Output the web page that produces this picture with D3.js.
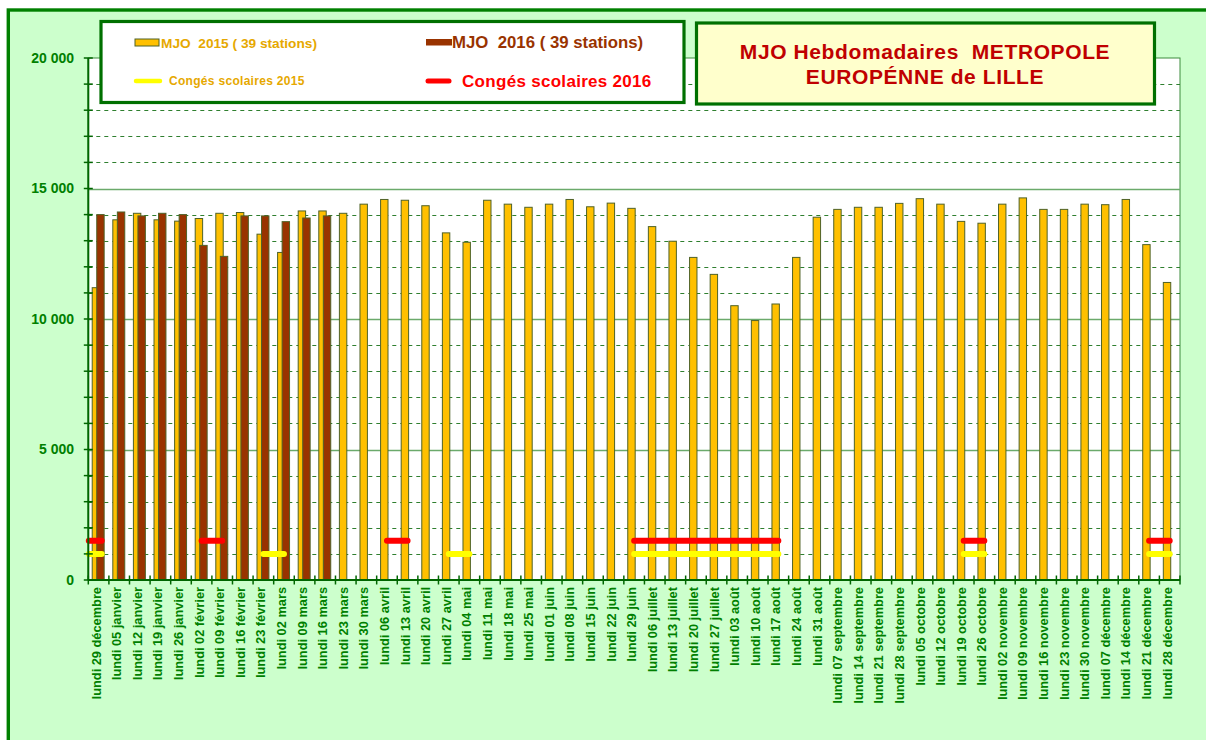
<!DOCTYPE html>
<html>
<head>
<meta charset="utf-8">
<script src="https://cdn.jsdelivr.net/npm/d3@7/dist/d3.min.js"></script>
<style>
  html, body { margin: 0; padding: 0; background: #ffffff; }
  svg { display: block; font-family: "Liberation Sans", Arial, sans-serif; }
</style>
</head>
<body>
<svg id="chart" width="1206" height="740"></svg>
<script>
// ---------- DATA ----------
const categories = [
  "lundi 29 décembre","lundi 05 janvier","lundi 12 janvier","lundi 19 janvier","lundi 26 janvier",
  "lundi 02 février","lundi 09 février","lundi 16 février","lundi 23 février",
  "lundi 02 mars","lundi 09 mars","lundi 16 mars","lundi 23 mars","lundi 30 mars",
  "lundi 06 avril","lundi 13 avril","lundi 20 avril","lundi 27 avril",
  "lundi 04 mai","lundi 11 mai","lundi 18 mai","lundi 25 mai",
  "lundi 01 juin","lundi 08 juin","lundi 15 juin","lundi 22 juin","lundi 29 juin",
  "lundi 06 juillet","lundi 13 juillet","lundi 20 juillet","lundi 27 juillet",
  "lundi 03 août","lundi 10 août","lundi 17 août","lundi 24 août","lundi 31 août",
  "lundi 07 septembre","lundi 14 septembre","lundi 21 septembre","lundi 28 septembre",
  "lundi 05 octobre","lundi 12 octobre","lundi 19 octobre","lundi 26 octobre",
  "lundi 02 novembre","lundi 09 novembre","lundi 16 novembre","lundi 23 novembre","lundi 30 novembre",
  "lundi 07 décembre","lundi 14 décembre","lundi 21 décembre","lundi 28 décembre"
];

const mjo2015 = [
  11200, 13800, 14050, 13800, 13750, 13850, 14050, 14080, 13250, 12550, 14140, 14140, 14050, 14400,
  14580, 14550, 14340, 13300, 12940, 14550, 14400, 14280, 14400, 14580, 14300, 14440, 14240,
  13540, 12980, 12360, 11710, 10510, 9940, 10575, 12360, 13900,
  14200, 14280, 14280, 14430, 14610, 14400, 13740, 13670,
  14400, 14640, 14200, 14200, 14400, 14380, 14580, 12850, 11400
];

const mjo2016 = [
  14000, 14100, 13950, 14050, 14000, 12820, 12400, 13950, 13950, 13730, 13870, 13950
];

// School holidays (value drawn at the level of the line), null = no holiday
const conges2015 = [
  1000, null, null, null, null, null, null, null, 1000, 1000, null, null, null, null,
  null, null, null, 1000, 1000, null, null, null, null, null, null, null, 1000,
  1000, 1000, 1000, 1000, 1000, 1000, 1000, null, null,
  null, null, null, null, null, null, 1000, 1000,
  null, null, null, null, null, null, null, 1000, 1000
];
const conges2016 = [
  1500, null, null, null, null, 1500, 1500, null, null, null, null, null, null, null,
  1500, 1500, null, null, null, null, null, null, null, null, null, null, 1500,
  1500, 1500, 1500, 1500, 1500, 1500, 1500, null, null,
  null, null, null, null, null, null, 1500, 1500,
  null, null, null, null, null, null, null, 1500, 1500
];

const yTicks = [0, 5000, 10000, 15000, 20000];
const yTickLabels = ["0", "5 000", "10 000", "15 000", "20 000"];

const legendLabels = {
  s2015: "MJO  2015 ( 39 stations)",
  s2016: "MJO  2016 ( 39 stations)",
  c2015: "Congés scolaires 2015",
  c2016: "Congés scolaires 2016"
};
const titleLines = ["MJO Hebdomadaires  METROPOLE", "EUROPÉNNE de LILLE"];

// ---------- STYLE ----------
const C = {
  bgOuter: "#CCFFCC",
  frame: "#008000",
  axis: "#006600",
  gridMajor: "#6BAA6B",
  gridMinor: "#2F7F2F",
  orange: "#FFC000",
  brown: "#993300",
  barStroke: "#4F6228",
  yellow: "#FFFF00",
  red: "#FF0000",
  text2015: "#E6A800",
  title: "#C00000",
  titleFill: "#FFFFCC",
  label: "#008000"
};

const svg = d3.select("#chart");

// Outer frame
svg.append("rect").attr("x", 8.3).attr("y", 10).attr("width", 1300).attr("height", 800)
  .attr("fill", C.bgOuter).attr("stroke", C.frame).attr("stroke-width", 3.4);

const plot = { left: 88.3, right: 1180, top: 58, bottom: 580 };

const x = d3.scaleBand().domain(categories).range([plot.left, plot.right]).padding(0);
const y = d3.scaleLinear().domain([0, 20000]).range([plot.bottom, plot.top]);
const bw = x.bandwidth();

// Plot area
svg.append("rect").attr("x", plot.left).attr("y", plot.top)
  .attr("width", plot.right - plot.left).attr("height", plot.bottom - plot.top)
  .attr("fill", "#ffffff").attr("stroke", "#3C8C3C").attr("stroke-width", 1);

// Gridlines
const gridVals = d3.range(1000, 20000, 1000);
svg.append("g").selectAll("line").data(gridVals).join("line")
  .attr("x1", plot.left).attr("x2", plot.right)
  .attr("y1", d => Math.round(y(d)) + 0.5).attr("y2", d => Math.round(y(d)) + 0.5)
  .attr("stroke", d => d % 5000 === 0 ? C.gridMajor : C.gridMinor)
  .attr("stroke-width", d => d % 5000 === 0 ? 1.5 : 1)
  .attr("stroke-dasharray", d => d % 5000 === 0 ? null : "4,4");

// Bars
const barW = bw * 0.36;
const gBars = svg.append("g");
gBars.selectAll("rect.s15").data(mjo2015).join("rect").attr("class", "s15")
  .attr("x", (d, i) => x(categories[i]) + bw * 0.19)
  .attr("y", d => y(d))
  .attr("width", barW)
  .attr("height", d => y(0) - y(d))
  .attr("fill", C.orange).attr("stroke", C.barStroke).attr("stroke-width", 1);
gBars.selectAll("rect.s16").data(mjo2016).join("rect").attr("class", "s16")
  .attr("x", (d, i) => x(categories[i]) + bw * 0.41)
  .attr("y", d => y(d))
  .attr("width", barW)
  .attr("height", d => y(0) - y(d))
  .attr("fill", C.brown).attr("stroke", C.barStroke).attr("stroke-width", 1);

// Holiday lines
function drawHoliday(values, color) {
  const pts = values.map((v, i) => ({ v, i }));
  const line = d3.line()
    .defined(d => d.v !== null)
    .x(d => x(categories[d.i]) + bw / 2)
    .y(d => y(d.v));
  const g = svg.append("g");
  g.append("path").attr("d", line(pts)).attr("fill", "none")
    .attr("stroke", color).attr("stroke-width", 6).attr("stroke-linecap", "round");
  // isolated points (single-week holidays) shown as short dash
  pts.forEach((d, k) => {
    if (d.v === null) return;
    const prev = k > 0 ? values[k - 1] : null;
    const next = k < values.length - 1 ? values[k + 1] : null;
    if (prev === null && next === null) {
      g.append("line")
        .attr("x1", x(categories[d.i]) + 0.5).attr("x2", x(categories[d.i]) + bw * 0.65)
        .attr("y1", y(d.v)).attr("y2", y(d.v))
        .attr("stroke", color).attr("stroke-width", 6).attr("stroke-linecap", "round");
    }
  });
}
drawHoliday(conges2015, C.yellow);
drawHoliday(conges2016, C.red);

// Y axis
const gy = svg.append("g");
gy.append("line").attr("x1", plot.left).attr("x2", plot.left)
  .attr("y1", plot.top).attr("y2", plot.bottom).attr("stroke", C.axis).attr("stroke-width", 2);
gy.selectAll("line.t").data(d3.range(0, 20001, 1000)).join("line").attr("class", "t")
  .attr("x1", plot.left - 4.5).attr("x2", plot.left + 4.5)
  .attr("y1", d => y(d)).attr("y2", d => y(d))
  .attr("stroke", C.axis).attr("stroke-width", 1.5);
gy.selectAll("text").data(yTicks).join("text")
  .attr("x", 74).attr("y", d => y(d)).attr("dy", "0.35em")
  .attr("text-anchor", "end")
  .attr("font-size", 14).attr("font-weight", "bold").attr("fill", C.label)
  .text((d, i) => yTickLabels[i]);

// X axis
const gx = svg.append("g");
gx.append("line").attr("x1", plot.left).attr("x2", plot.right)
  .attr("y1", plot.bottom).attr("y2", plot.bottom).attr("stroke", C.axis).attr("stroke-width", 2);
gx.selectAll("line.t").data(categories.concat(["__end"])).join("line").attr("class", "t")
  .attr("x1", (d, i) => plot.left + i * bw).attr("x2", (d, i) => plot.left + i * bw)
  .attr("y1", plot.bottom - 4.5).attr("y2", plot.bottom + 4.5)
  .attr("stroke", C.axis).attr("stroke-width", 1.5);
gx.selectAll("text").data(categories).join("text")
  .attr("transform", d => `translate(${x(d) + bw / 2 - 2.5},${plot.bottom + 7}) rotate(-90)`)
  .attr("dy", "0.35em")
  .attr("text-anchor", "end")
  .attr("font-size", 12.8).attr("font-weight", "bold").attr("fill", C.label)
  .text(d => d);

// Legend box
const lg = svg.append("g");
lg.append("rect").attr("x", 101).attr("y", 21.5).attr("width", 583).attr("height", 81)
  .attr("fill", "#ffffff").attr("stroke", "#007000").attr("stroke-width", 3.2);
lg.append("rect").attr("x", 135).attr("y", 39).attr("width", 24).attr("height", 7)
  .attr("fill", C.orange).attr("stroke", C.barStroke).attr("stroke-width", 1);
lg.append("text").attr("x", 161).attr("y", 47.5).style("white-space", "pre")
  .attr("font-size", 13.7).attr("font-weight", "bold").attr("fill", C.text2015)
  .text(legendLabels.s2015);
lg.append("line").attr("x1", 136).attr("x2", 160).attr("y1", 81).attr("y2", 81)
  .attr("stroke", C.yellow).attr("stroke-width", 4.5).attr("stroke-linecap", "round");
lg.append("text").attr("x", 169).attr("y", 85).style("white-space", "pre")
  .attr("font-size", 12).attr("font-weight", "bold").attr("letter-spacing", 0.3)
  .attr("fill", C.text2015).text(legendLabels.c2015);
lg.append("rect").attr("x", 426).attr("y", 39).attr("width", 26).attr("height", 6.5)
  .attr("fill", C.brown);
lg.append("text").attr("x", 452).attr("y", 47.5).style("white-space", "pre")
  .attr("font-size", 16.8).attr("font-weight", "bold").attr("fill", C.brown)
  .text(legendLabels.s2016);
lg.append("line").attr("x1", 428).attr("x2", 449).attr("y1", 81).attr("y2", 81)
  .attr("stroke", C.red).attr("stroke-width", 5).attr("stroke-linecap", "round");
lg.append("text").attr("x", 462).attr("y", 87).style("white-space", "pre")
  .attr("font-size", 17).attr("font-weight", "bold").attr("letter-spacing", 0.3)
  .attr("fill", C.red).text(legendLabels.c2016);

// Title box
const tg = svg.append("g");
tg.append("rect").attr("x", 696.5).attr("y", 23).attr("width", 458).attr("height", 81)
  .attr("fill", C.titleFill).attr("stroke", "#007000").attr("stroke-width", 3.2);
tg.selectAll("text").data(titleLines).join("text")
  .attr("x", 925).attr("y", (d, i) => 59 + i * 24.5)
  .attr("text-anchor", "middle").style("white-space", "pre")
  .attr("font-size", 21).attr("font-weight", "bold").attr("letter-spacing", 0.6)
  .attr("fill", C.title).text(d => d);
</script>
</body>
</html>
